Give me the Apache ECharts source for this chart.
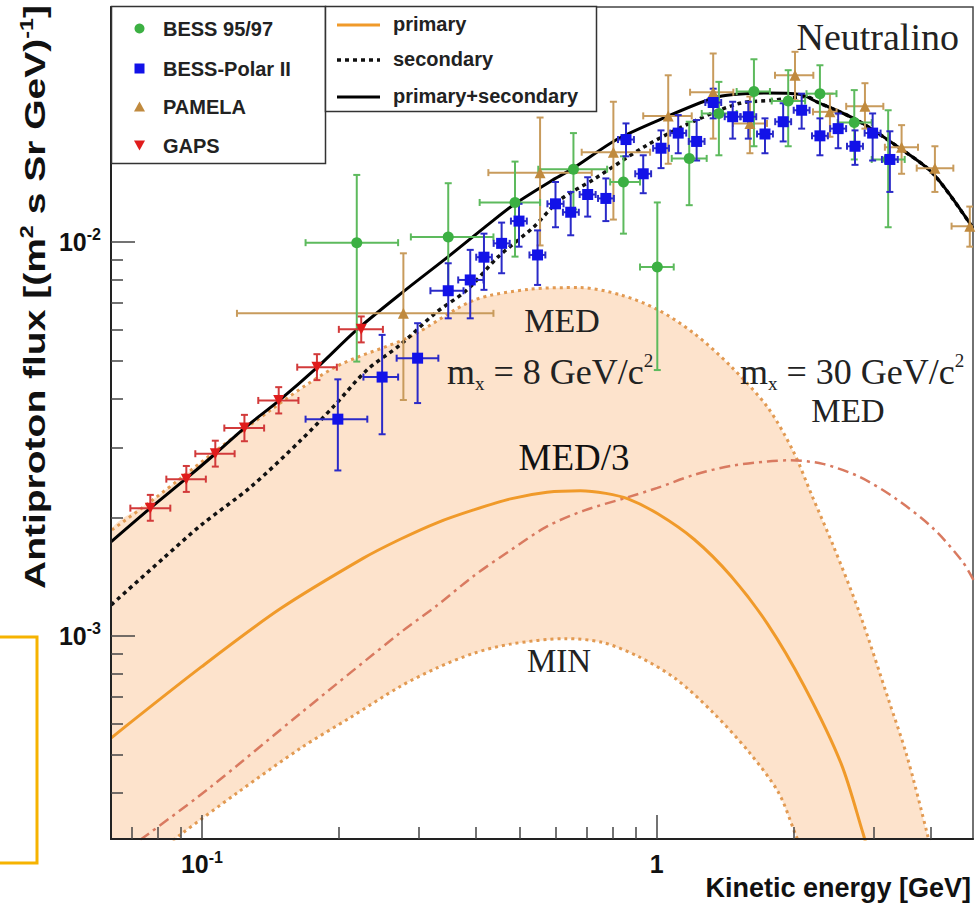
<!DOCTYPE html>
<html><head><meta charset="utf-8">
<script src="https://cdn.jsdelivr.net/npm/echarts@6/dist/echarts.min.js"></script>
<style>html,body{margin:0;padding:0;background:#fff}#c{width:976px;height:905px}</style>
</head><body><div id="c"></div>
<script>
// ---------------- data (kinetic energy [GeV], flux [(m2 s sr GeV)^-1]) ----------------
// GAPS
const GAPS_E   = [0.077, 0.0924, 0.107, 0.124, 0.1475, 0.179, 0.224];
const GAPS_F   = [2.11e-3, 2.50e-3, 2.90e-3, 3.37e-3, 3.96e-3, 4.81e-3, 6.00e-3];
const GAPS_ELO = [0.0696, 0.0835, 0.0967, 0.112, 0.133, 0.162, 0.200];
const GAPS_EHI = [0.0852, 0.102, 0.118, 0.137, 0.163, 0.198, 0.250];
const GAPS_FLO = [1.96e-3, 2.32e-3, 2.69e-3, 3.12e-3, 3.67e-3, 4.46e-3, 5.56e-3];
const GAPS_FHI = [2.28e-3, 2.70e-3, 3.13e-3, 3.64e-3, 4.28e-3, 5.19e-3, 6.47e-3];
// BESS 95/97
const B97_E   = [0.219, 0.348, 0.488, 0.656, 0.845, 1.003, 1.179, 1.37, 1.636, 1.946, 2.285, 2.719, 3.228];
const B97_F   = [9.96e-3, 10.3e-3, 12.6e-3, 15.3e-3, 14.2e-3, 8.64e-3, 16.3e-3, 21.2e-3, 24.1e-3, 22.8e-3, 23.8e-3, 20.1e-3, 16.2e-3];
const B97_ELO = [0.169, 0.288, 0.408, 0.549, 0.79, 0.919, 1.079, 1.256, 1.499, 1.79, 2.135, 2.5, 2.97];
const B97_EHI = [0.270, 0.4375, 0.554, 0.778, 0.919, 1.09, 1.288, 1.499, 1.774, 2.12, 2.485, 2.97, 3.51];
const B97_FLO = [4.97e-3, 7.55e-3, 9.18e-3, 12.1e-3, 10.5e-3, 4.73e-3, 12.4e-3, 16.6e-3, 17.5e-3, 17.5e-3, 18.5e-3, 16.2e-3, 10.9e-3];
const B97_FHI = [14.8e-3, 14.1e-3, 16.0e-3, 18.9e-3, 16.5e-3, 12.6e-3, 20.2e-3, 25.5e-3, 29.1e-3, 27.3e-3, 28.1e-3, 24.3e-3, 21.6e-3];
// BESS-Polar II
const BP_E   = [0.199, 0.249, 0.298, 0.348, 0.389, 0.417, 0.456, 0.498, 0.547, 0.599, 0.647, 0.705, 0.773, 0.856, 0.934, 1.022, 1.115, 1.224, 1.331, 1.469, 1.590, 1.730, 1.897, 2.083, 2.285, 2.506, 2.729, 2.984, 3.256];
const BP_F   = [3.55e-3, 4.54e-3, 5.07e-3, 7.52e-3, 8.01e-3, 9.15e-3, 9.92e-3, 11.3e-3, 9.27e-3, 12.5e-3, 11.9e-3, 13.2e-3, 12.9e-3, 18.2e-3, 14.9e-3, 17.3e-3, 18.9e-3, 18.0e-3, 22.6e-3, 20.8e-3, 20.8e-3, 18.8e-3, 20.2e-3, 21.6e-3, 18.6e-3, 19.4e-3, 17.5e-3, 18.9e-3, 16.2e-3];
const BP_ELO = [0.169, 0.2265, 0.268, 0.318, 0.366, 0.401, 0.438, 0.478, 0.525, 0.575, 0.622, 0.677, 0.743, 0.822, 0.897, 0.982, 1.071, 1.176, 1.279, 1.411, 1.527, 1.662, 1.822, 2.001, 2.195, 2.407, 2.621, 2.866, 3.128];
const BP_EHI = [0.231, 0.270, 0.331, 0.376, 0.416, 0.434, 0.475, 0.518, 0.569, 0.624, 0.674, 0.734, 0.805, 0.891, 0.972, 1.064, 1.161, 1.274, 1.386, 1.529, 1.655, 1.801, 1.975, 2.168, 2.379, 2.609, 2.841, 3.106, 3.389];
const BP_FLO = [2.63e-3, 3.25e-3, 3.90e-3, 6.40e-3, 6.40e-3, 7.56e-3, 8.33e-3, 9.73e-3, 7.78e-3, 10.9e-3, 10.4e-3, 11.6e-3, 11.3e-3, 16.5e-3, 13.3e-3, 15.4e-3, 16.8e-3, 16.1e-3, 20.6e-3, 18.3e-3, 18.3e-3, 16.8e-3, 18.0e-3, 19.4e-3, 16.6e-3, 17.3e-3, 15.7e-3, 16.1e-3, 13.4e-3];
const BP_FHI = [4.48e-3, 5.81e-3, 6.22e-3, 8.83e-3, 9.55e-3, 10.5e-3, 11.2e-3, 12.5e-3, 10.7e-3, 14.2e-3, 13.4e-3, 14.6e-3, 14.5e-3, 20.0e-3, 16.6e-3, 19.2e-3, 21.0e-3, 20.4e-3, 24.5e-3, 22.7e-3, 22.7e-3, 20.6e-3, 22.5e-3, 23.8e-3, 20.6e-3, 21.2e-3, 19.2e-3, 21.2e-3, 19.1e-3];
// PAMELA
const PAM_E   = [0.2773, 0.554, 0.803, 1.060, 1.331, 1.603, 2.014, 2.404, 2.870, 3.455, 4.09, 4.88];
const PAM_F   = [6.59e-3, 15.0e-3, 16.9e-3, 20.9e-3, 24.0e-3, 20.0e-3, 26.5e-3, 21.4e-3, 22.1e-3, 17.4e-3, 15.4e-3, 10.97e-3];
const PAM_ELO = [0.1194, 0.4264, 0.684, 0.934, 1.184, 1.471, 1.82, 2.206, 2.61, 3.175, 3.73, 4.45];
const PAM_EHI = [0.4375, 0.7197, 0.967, 1.194, 1.474, 1.748, 2.21, 2.486, 3.15, 3.754, 4.49, 5.3];
const PAM_FLO = [3.97e-3, 9.8e-3, 11.4e-3, 15.8e-3, 18.3e-3, 16.8e-3, 22.9e-3, 18.5e-3, 19.4e-3, 14.9e-3, 13.4e-3, 9.73e-3];
const PAM_FHI = [9.36e-3, 20.7e-3, 22.7e-3, 26.5e-3, 30.1e-3, 23.4e-3, 30.4e-3, 23.8e-3, 25.3e-3, 19.8e-3, 17.5e-3, 12.3e-3];
// model curves
const SUM_E = [0.0632, 0.077, 0.0924, 0.107, 0.124, 0.1475, 0.1795, 0.2189, 0.2773, 0.348, 0.4229, 0.488, 0.5926, 0.656, 0.817, 1.052, 1.331, 1.474, 1.745, 2.065, 2.247, 2.753, 3.425, 4.055, 4.957];
const SUM_F = [1.735e-3, 2.11e-3, 2.51e-3, 2.90e-3, 3.37e-3, 3.95e-3, 4.81e-3, 5.98e-3, 7.48e-3, 9.18e-3, 11.0e-3, 12.5e-3, 14.4e-3, 15.4e-3, 18.2e-3, 20.8e-3, 23.2e-3, 23.7e-3, 23.9e-3, 23.7e-3, 22.7e-3, 20.4e-3, 17.3e-3, 14.9e-3, 10.85e-3];
const SEC_E = [0.0632, 0.0823, 0.0997, 0.1283, 0.1653, 0.1946, 0.2305, 0.2728, 0.3256, 0.3823, 0.4486, 0.5355, 0.613, 0.7255, 0.951, 1.224, 1.524, 1.804, 2.136, 2.247, 2.753, 3.425, 4.055, 4.957];
const SEC_F = [1.199e-3, 1.575e-3, 1.913e-3, 2.393e-3, 3.145e-3, 3.819e-3, 4.73e-3, 5.48e-3, 6.59e-3, 7.55e-3, 9.18e-3, 10.9e-3, 12.8e-3, 14.4e-3, 17.6e-3, 20.4e-3, 22.5e-3, 22.9e-3, 23.4e-3, 22.7e-3, 20.4e-3, 17.3e-3, 14.9e-3, 10.85e-3];
const MED_E = [0.0634, 0.077, 0.1233, 0.1943, 0.287, 0.3957, 0.5233, 0.678, 0.833, 1.0035, 1.208, 1.457, 1.752, 1.997, 2.193, 2.45, 2.792, 3.24, 3.549, 3.938, 4.05];
const MED_F = [1.858e-3, 2.19e-3, 3.33e-3, 4.78e-3, 5.75e-3, 7.11e-3, 7.58e-3, 7.66e-3, 7.34e-3, 6.74e-3, 5.86e-3, 4.83e-3, 3.81e-3, 2.94e-3, 2.275e-3, 1.684e-3, 1.144e-3, 0.684e-3, 0.496e-3, 0.313e-3, 0.27e-3];
const MIN_E = [0.0632, 0.0896, 0.1194, 0.1653, 0.2118, 0.2728, 0.3286, 0.3957, 0.4768, 0.63, 0.759, 0.914, 1.101, 1.326, 1.598, 1.854, 2.016, 2.1];
const MIN_F = [0.23e-3, 0.3126e-3, 0.399e-3, 0.52e-3, 0.62e-3, 0.744e-3, 0.829e-3, 0.903e-3, 0.953e-3, 0.984e-3, 0.963e-3, 0.885e-3, 0.778e-3, 0.641e-3, 0.506e-3, 0.3996e-3, 0.315e-3, 0.28e-3];
const PRI_E = [0.0632, 0.0997, 0.1486, 0.2265, 0.2728, 0.3286, 0.3957, 0.4768, 0.574, 0.679, 0.773, 0.865, 1.0035, 1.208, 1.456, 1.752, 2.112, 2.544, 2.843, 2.9];
const PRI_F = [0.551e-3, 0.834e-3, 1.171e-3, 1.575e-3, 1.759e-3, 1.937e-3, 2.088e-3, 2.227e-3, 2.314e-3, 2.335e-3, 2.30e-3, 2.227e-3, 2.044e-3, 1.759e-3, 1.419e-3, 1.073e-3, 0.744e-3, 0.474e-3, 0.315e-3, 0.29e-3];
const M30_E = [0.0732, 0.1026, 0.1653, 0.2728, 0.3286, 0.3957, 0.4768, 0.574, 0.6915, 0.865, 1.0035, 1.208, 1.456, 1.752, 1.96, 2.318, 2.792, 3.362, 4.051, 4.699, 4.97];
const M30_F = [0.3035e-3, 0.4065e-3, 0.638e-3, 1.018e-3, 1.194e-3, 1.419e-3, 1.649e-3, 1.896e-3, 2.08e-3, 2.25e-3, 2.375e-3, 2.563e-3, 2.702e-3, 2.773e-3, 2.791e-3, 2.733e-3, 2.533e-3, 2.227e-3, 1.876e-3, 1.546e-3, 1.388e-3];
// axes
const X_MIN = 0.0631, X_MAX = 4.96, Y_MIN = 3.05e-4, Y_MAX = 3.95e-2;
const X_MAJOR = [0.1, 1];
const X_MAJOR_LABELS = ['10^-1', '1'];
const X_MINOR = [0.07, 0.08, 0.09, 0.2, 0.3, 0.4, 0.5, 0.6, 0.7, 0.8, 0.9, 2, 3, 4];
const Y_MAJOR = [0.001, 0.01];
const Y_MAJOR_LABELS = ['10^-3', '10^-2'];
const Y_MINOR = [0.0004, 0.0005, 0.0006, 0.0007, 0.0008, 0.0009, 0.002, 0.003, 0.004, 0.005, 0.006, 0.007, 0.008, 0.009, 0.02, 0.03];

// ---------------- chart ----------------
const SANS = '"Liberation Sans", Arial, sans-serif';
const SERIF = '"Liberation Serif", "Times New Roman", serif';
const zip = (...arrs) => arrs[0].map((_, i) => arrs.map(a => a[i]));
const toRich = s => {
  const p = s.split('^');
  return '{b|' + p[0] + '}' + (p.length > 1 ? '{sup|' + p[1] + '}' : '');
};
const tickRich = {
  b: { fontSize: 25, fontWeight: 'bold', fontFamily: SANS, fill: '#111', lineHeight: 30 },
  sup: { fontSize: 16, fontWeight: 'bold', fontFamily: SANS, fill: '#111', lineHeight: 16, verticalAlign: 'top' }
};

function errSeries(name, color, E, F, ELO, EHI, FLO, FHI) {
  return {
    type: 'custom', name: name + ' errors', xAxisIndex: 0, yAxisIndex: 0, clip: true, z: 3, silent: true,
    data: zip(E, F, ELO, EHI, FLO, FHI),
    renderItem: function (params, api) {
      const x = api.value(0), y = api.value(1);
      const l = api.coord([api.value(2), y]), r = api.coord([api.value(3), y]);
      const b = api.coord([x, api.value(4)]), t = api.coord([x, api.value(5)]);
      const st = { stroke: color, lineWidth: 2 };
      const cap = 3.5;
      return { type: 'group', children: [
        { type: 'line', shape: { x1: l[0], y1: l[1], x2: r[0], y2: r[1] }, style: st },
        { type: 'line', shape: { x1: t[0], y1: t[1], x2: b[0], y2: b[1] }, style: st },
        { type: 'line', shape: { x1: l[0], y1: l[1] - cap, x2: l[0], y2: l[1] + cap }, style: st },
        { type: 'line', shape: { x1: r[0], y1: r[1] - cap, x2: r[0], y2: r[1] + cap }, style: st },
        { type: 'line', shape: { x1: t[0] - cap, y1: t[1], x2: t[0] + cap, y2: t[1] }, style: st },
        { type: 'line', shape: { x1: b[0] - cap, y1: b[1], x2: b[0] + cap, y2: b[1] }, style: st }
      ] };
    }
  };
}
function markerSeries(name, color, E, F, symbol, size, rotate) {
  return { type: 'scatter', name: name, xAxisIndex: 0, yAxisIndex: 0, z: 4, data: zip(E, F),
    symbol: symbol, symbolSize: size, symbolRotate: rotate || 0, itemStyle: { color: color, opacity: 1 } };
}
function curve(name, color, E, F, width, type, z) {
  return { type: 'line', name: name, xAxisIndex: 0, yAxisIndex: 0, data: zip(E, F), showSymbol: false, symbol: 'none',
    smooth: 0.3, z: z || 2, clip: true, silent: true,
    lineStyle: { color: color, width: width, type: type } };
}

const chart = echarts.init(document.getElementById('c'), null, { renderer: 'svg' });
const axisBase = () => ({ type: 'log', logBase: 10, z: 5, splitLine: { show: false }, minorTick: { show: false }, axisLabel: { show: false } });

const option = {
  animation: false,
  backgroundColor: '#fff',
  grid: { left: 111, top: 7, width: 862, height: 832, show: true, borderColor: '#444', borderWidth: 1.5, backgroundColor: 'transparent' },
  xAxis: [
    Object.assign(axisBase(), { min: X_MIN, max: X_MAX, position: 'bottom',
      axisLine: { show: true, onZero: false, lineStyle: { color: '#222', width: 2 } },
      axisTick: { show: true, inside: true, length: 24, customValues: X_MAJOR, lineStyle: { color: '#444', width: 1.5 } } }),
    Object.assign(axisBase(), { min: X_MIN, max: X_MAX, position: 'bottom',
      axisLine: { show: false, onZero: false },
      axisTick: { show: true, inside: true, length: 12, customValues: X_MINOR, lineStyle: { color: '#444', width: 1.5 } } })
  ],
  yAxis: [
    Object.assign(axisBase(), { min: Y_MIN, max: Y_MAX, position: 'left',
      axisLine: { show: true, onZero: false, lineStyle: { color: '#222', width: 2 } },
      axisTick: { show: true, inside: true, length: 24, customValues: Y_MAJOR, lineStyle: { color: '#444', width: 1.5 } } }),
    Object.assign(axisBase(), { min: Y_MIN, max: Y_MAX, position: 'left',
      axisLine: { show: false, onZero: false },
      axisTick: { show: true, inside: true, length: 12, customValues: Y_MINOR, lineStyle: { color: '#444', width: 1.5 } } })
  ],
  series: [
    { type: 'custom', name: 'band', xAxisIndex: 0, yAxisIndex: 0, clip: true, silent: true, z: 1,
      data: [[MED_E[0], MED_F[0]]],
      renderItem: function (params, api) {
        const pts = MED_E.map((e, i) => api.coord([e, MED_F[i]]));
        for (let i = MIN_E.length - 1; i >= 0; i--) pts.push(api.coord([MIN_E[i], MIN_F[i]]));
        return { type: 'polygon', shape: { points: pts, smooth: 0.2 }, style: { fill: '#fde3cc', stroke: null } };
      } },
    curve('MED', '#e29a52', MED_E, MED_F, 3, [3, 4]),
    curve('MIN', '#e29a52', MIN_E, MIN_F, 3, [3, 4]),
    curve('m_x = 30 GeV/c2 MED', '#d97a60', M30_E, M30_F, 2.5, [11, 5, 3, 5]),
    curve('primary', '#f09a2a', PRI_E, PRI_F, 3, 'solid'),
    curve('secondary', '#111', SEC_E, SEC_F, 3.5, [4, 4], 2.5),
    curve('primary+secondary', '#000', SUM_E, SUM_F, 3, 'solid', 2.6),
    errSeries('PAMELA', '#c89b5c', PAM_E, PAM_F, PAM_ELO, PAM_EHI, PAM_FLO, PAM_FHI),
    markerSeries('PAMELA', '#c08a3e', PAM_E, PAM_F, 'triangle', 11),
    errSeries('BESS 95/97', '#5dba5d', B97_E, B97_F, B97_ELO, B97_EHI, B97_FLO, B97_FHI),
    markerSeries('BESS 95/97', '#3cb043', B97_E, B97_F, 'circle', 11),
    errSeries('BESS-Polar II', '#2a2ac8', BP_E, BP_F, BP_ELO, BP_EHI, BP_FLO, BP_FHI),
    markerSeries('BESS-Polar II', '#1212e8', BP_E, BP_F, 'rect', 11),
    errSeries('GAPS', '#d23a3a', GAPS_E, GAPS_F, GAPS_ELO, GAPS_EHI, GAPS_FLO, GAPS_FHI),
    markerSeries('GAPS', '#e01c1c', GAPS_E, GAPS_F, 'triangle', 11, 180)
  ],
  graphic: [
    // legend 1
    { type: 'rect', z: 100, shape: { x: 111.5, y: 6.5, width: 214, height: 157 }, style: { fill: '#fff', stroke: '#333', lineWidth: 1.5 } },
    { type: 'circle', z: 101, shape: { cx: 139.5, cy: 28.5, r: 5 }, style: { fill: '#3cb043' } },
    { type: 'rect', z: 101, shape: { x: 134.5, y: 63.5, width: 10, height: 10 }, style: { fill: '#1212e8' } },
    { type: 'polygon', z: 101, shape: { points: [[139.5, 101.5], [145, 111.5], [134, 111.5]] }, style: { fill: '#c08a3e' } },
    { type: 'polygon', z: 101, shape: { points: [[134, 140.5], [145, 140.5], [139.5, 150.5]] }, style: { fill: '#e01c1c' } },
    { type: 'text', z: 101, style: { text: 'BESS 95/97', x: 163, y: 28.5, verticalAlign: 'middle', font: 'bold 20px ' + SANS, fill: '#222' } },
    { type: 'text', z: 101, style: { text: 'BESS-Polar II', x: 163, y: 68.5, verticalAlign: 'middle', font: 'bold 20px ' + SANS, fill: '#222' } },
    { type: 'text', z: 101, style: { text: 'PAMELA', x: 163, y: 107, verticalAlign: 'middle', font: 'bold 20px ' + SANS, fill: '#222' } },
    { type: 'text', z: 101, style: { text: 'GAPS', x: 163, y: 146, verticalAlign: 'middle', font: 'bold 20px ' + SANS, fill: '#222' } },
    // legend 2
    { type: 'rect', z: 100, shape: { x: 325.5, y: 6.5, width: 271, height: 105 }, style: { fill: '#fff', stroke: '#333', lineWidth: 1.5 } },
    { type: 'line', z: 101, shape: { x1: 337, y1: 25, x2: 380, y2: 25 }, style: { stroke: '#f09a2a', lineWidth: 3 } },
    { type: 'line', z: 101, shape: { x1: 337, y1: 60, x2: 380, y2: 60 }, style: { stroke: '#111', lineWidth: 3.5, lineDash: [4, 4] } },
    { type: 'line', z: 101, shape: { x1: 337, y1: 97, x2: 380, y2: 97 }, style: { stroke: '#000', lineWidth: 3 } },
    { type: 'text', z: 101, style: { text: 'primary', x: 393, y: 24, verticalAlign: 'middle', font: 'bold 20px ' + SANS, fill: '#222' } },
    { type: 'text', z: 101, style: { text: 'secondary', x: 393, y: 59, verticalAlign: 'middle', font: 'bold 20px ' + SANS, fill: '#222' } },
    { type: 'text', z: 101, style: { text: 'primary+secondary', x: 393, y: 96, verticalAlign: 'middle', font: 'bold 20px ' + SANS, fill: '#222' } },
    // annotations
    { type: 'text', z: 50, style: { text: 'Neutralino', x: 959, y: 37, align: 'right', verticalAlign: 'middle', font: '38px ' + SERIF, fill: '#222' } },
    { type: 'text', z: 50, style: { text: 'MED', x: 562, y: 320, align: 'center', verticalAlign: 'middle', font: '34px ' + SERIF, fill: '#222' } },
    { type: 'text', z: 50, style: { text: '{m|m}{sub|x}{m| = 8 GeV/c}{sup|2}', x: 447, y: 372, verticalAlign: 'middle',
        rich: { m: { fontSize: 36, fontFamily: SERIF, fill: '#222', lineHeight: 42 },
                sub: { fontSize: 19, fontFamily: SERIF, fill: '#222', lineHeight: 19, verticalAlign: 'bottom' },
                sup: { fontSize: 19, fontFamily: SERIF, fill: '#222', lineHeight: 19, verticalAlign: 'top' } } } },
    { type: 'text', z: 50, style: { text: '{m|m}{sub|x}{m| = 30 GeV/c}{sup|2}', x: 740, y: 372, verticalAlign: 'middle',
        rich: { m: { fontSize: 36, fontFamily: SERIF, fill: '#222', lineHeight: 42 },
                sub: { fontSize: 19, fontFamily: SERIF, fill: '#222', lineHeight: 19, verticalAlign: 'bottom' },
                sup: { fontSize: 19, fontFamily: SERIF, fill: '#222', lineHeight: 19, verticalAlign: 'top' } } } },
    { type: 'text', z: 50, style: { text: 'MED', x: 848, y: 411, align: 'center', verticalAlign: 'middle', font: '33px ' + SERIF, fill: '#222' } },
    { type: 'text', z: 50, style: { text: 'MED/3', x: 574, y: 457, align: 'center', verticalAlign: 'middle', font: '37px ' + SERIF, fill: '#111' } },
    { type: 'text', z: 50, style: { text: 'MIN', x: 559, y: 661, align: 'center', verticalAlign: 'middle', font: '33px ' + SERIF, fill: '#222' } },
    // axis titles
    { type: 'text', z: 50, style: { text: 'Kinetic energy [GeV]', x: 971, y: 888, align: 'right', verticalAlign: 'middle', font: 'bold 27px ' + SANS, fill: '#111' } },
    { type: 'text', z: 50, x: 35, y: 297, rotation: Math.PI / 2, scaleX: 1.3,
      style: { text: '{t|Antiproton flux [(m}{s|2}{t| s Sr GeV)}{s|-1}{t|]}', align: 'center', verticalAlign: 'middle',
        rich: { t: { fontSize: 30, fontWeight: 'bold', fontFamily: SANS, fill: '#111', lineHeight: 34 },
                s: { fontSize: 18, fontWeight: 'bold', fontFamily: SANS, fill: '#111', lineHeight: 18, verticalAlign: 'top' } } } },
    // highlight box on the left edge
    { type: 'rect', z: 50, shape: { x: -5, y: 637, width: 42, height: 226 }, style: { fill: 'none', stroke: '#f6b300', lineWidth: 3 } }
  ]
};
chart.setOption(option);

// tick labels placed through the axes' own scales
const grid = { bottom: 839, left: 111 };
X_MAJOR.forEach((v, i) => {
  const px = chart.convertToPixel({ xAxisIndex: 0 }, v);
  option.graphic.push({ type: 'text', z: 60, style: { text: toRich(X_MAJOR_LABELS[i]), x: px, y: grid.bottom + 10,
    align: 'center', verticalAlign: 'top', rich: tickRich } });
});
Y_MAJOR.forEach((v, i) => {
  const py = chart.convertToPixel({ yAxisIndex: 0 }, v);
  option.graphic.push({ type: 'text', z: 60, style: { text: toRich(Y_MAJOR_LABELS[i]), x: grid.left - 10, y: py,
    align: 'right', verticalAlign: 'middle', rich: tickRich } });
});
chart.setOption({ graphic: option.graphic });
</script></body></html>
